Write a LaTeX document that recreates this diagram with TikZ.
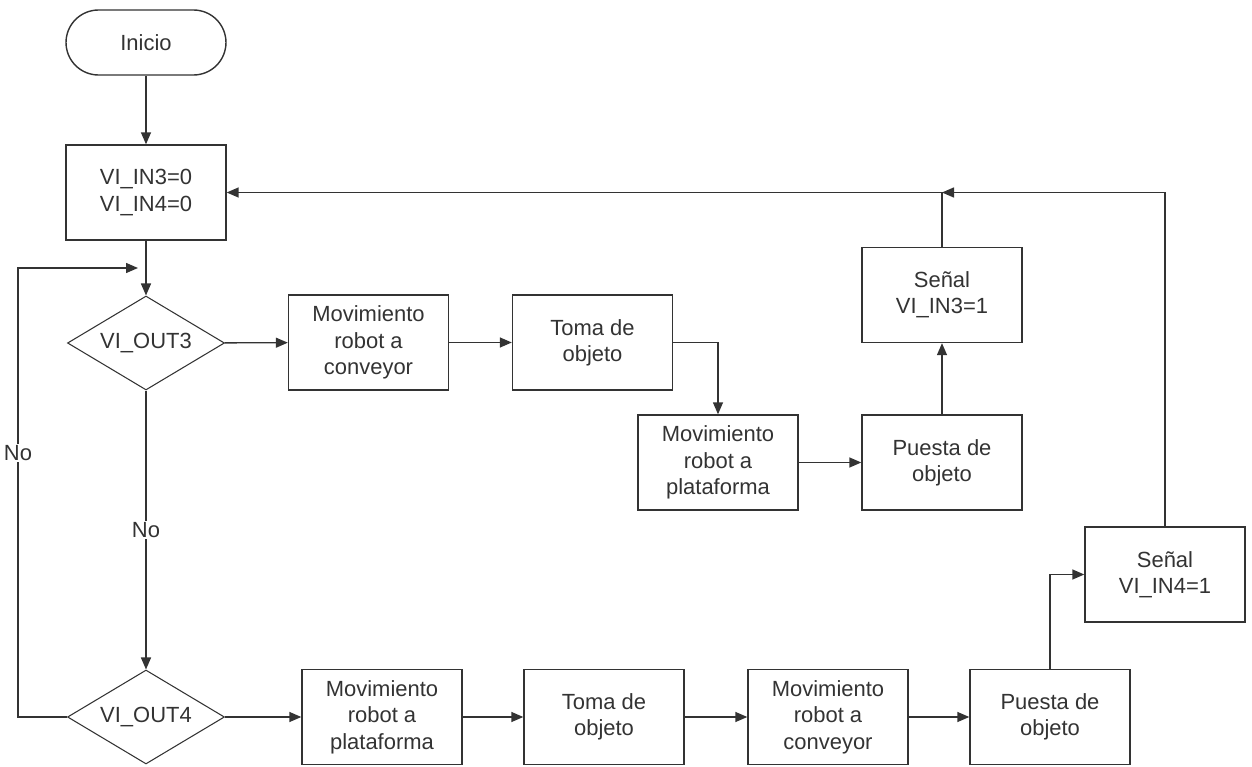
\documentclass[tikz,border=0pt]{standalone}
\usepackage{fontspec}
\setmainfont{Liberation Sans}
\usetikzlibrary{shapes.geometric,arrows.meta}

\begin{document}
\begin{tikzpicture}[x=0.02cm,y=-0.02cm,
    every node/.style={font=\fontsize{12.5}{15}\selectfont, text=black!80},
    caja/.style={draw=black!80, line width=0.8pt, minimum width=3.2cm, minimum height=1.9cm, align=center, inner sep=0pt},
    terminal/.style={caja, rounded corners=0.65cm, minimum height=1.3cm},
    decision/.style={draw=black!80, line width=0.6pt, diamond, aspect=1.67, minimum width=3.14cm, minimum height=1.88cm, inner sep=0pt},
    linea/.style={draw=black!80, line width=0.8pt},
    flecha/.style={linea, -{Triangle[length=0.24cm,width=0.2cm]}},
    etiqueta/.style={fill=white, inner sep=1pt}]
\useasboundingbox (0,0) rectangle (1252,767);

% columna izquierda
\node[terminal] (inicio) at (146,42.5) {Inicio};
\node[caja] (ini) at (146,192.5) {VI\_IN3=0\\VI\_IN4=0};
\node[decision] (d3) at (146,343) {VI\_OUT3};
\node[decision] (d4) at (146,717) {VI\_OUT4};

% rama VI_OUT3
\node[caja] (r1a) at (368.5,342.5) {Movimiento\\robot a\\conveyor};
\node[caja] (r1b) at (592.5,342.5) {Toma de\\objeto};
\node[caja] (r1c) at (718,462.5) {Movimiento\\robot a\\plataforma};
\node[caja] (r1d) at (942,462.5) {Puesta de\\objeto};
\node[caja] (s3) at (942,295) {Señal\\VI\_IN3=1};

% rama VI_OUT4
\node[caja] (r2a) at (382,717) {Movimiento\\robot a\\plataforma};
\node[caja] (r2b) at (604,717) {Toma de\\objeto};
\node[caja] (r2c) at (828,717) {Movimiento\\robot a\\conveyor};
\node[caja] (r2d) at (1050,717) {Puesta de\\objeto};
\node[caja] (s4) at (1165,574.5) {Señal\\VI\_IN4=1};

\coordinate (j3) at (s3.north |- ini.east);
\coordinate (esq) at (18,268);
\coordinate (lazo) at (138,268);

% conexiones
\draw[flecha] (inicio) -- (ini);
\draw[flecha] (ini) -- (d3);
\draw[flecha] (d3) -- (r1a);
\draw[flecha] (r1a) -- (r1b);
\draw[flecha] (r1b.east) -| (r1c.north);
\draw[flecha] (r1c) -- (r1d);
\draw[flecha] (r1d) -- (s3);
\draw[linea] (s3.north) -- (j3);
\draw[flecha] (s4.north) |- (j3);
\draw[flecha] (j3) -- (ini.east);

\draw[flecha] (d3) -- node[etiqueta] (no3) {No} (d4);
\draw[flecha] (d4.west) -| (esq) -- (lazo);
\node[etiqueta] (no4) at (18,453) {No};

\draw[flecha] (d4) -- (r2a);
\draw[flecha] (r2a) -- (r2b);
\draw[flecha] (r2b) -- (r2c);
\draw[flecha] (r2c) -- (r2d);
\draw[flecha] (r2d.north) |- (s4.west);
\end{tikzpicture}
\end{document}
